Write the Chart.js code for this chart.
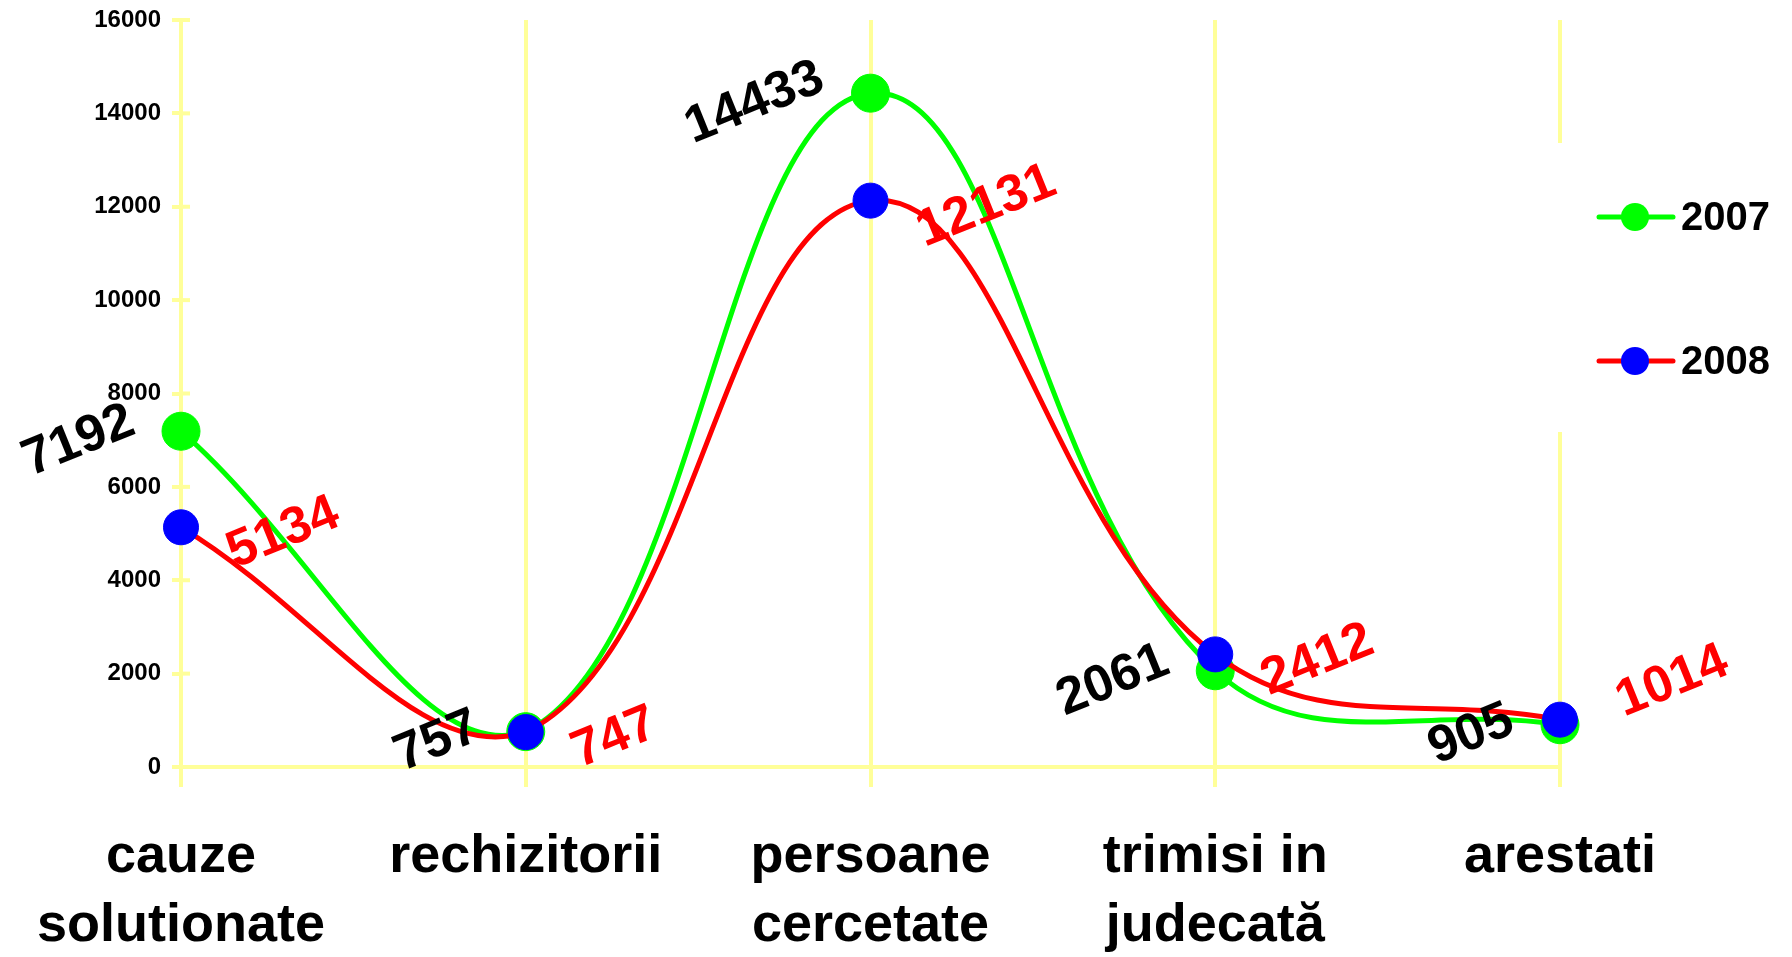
<!DOCTYPE html>
<html>
<head>
<meta charset="utf-8">
<script src="https://cdn.jsdelivr.net/npm/chart.js@4.4.0/dist/chart.umd.min.js"></script>
<style>
html,body{margin:0;padding:0;background:#ffffff;}
#wrap{position:relative;width:1792px;height:957px;}
</style>
</head>
<body>
<div id="wrap"><canvas id="c" width="1792" height="957"></canvas></div>
<script>
// ---- data ----
const categories = [['cauze', 'solutionate'], 'rechizitorii', ['persoane', 'cercetate'], ['trimisi in', 'judecată'], 'arestati'];
const seriesNames = ['2007', '2008'];
const values2007 = [7192, 757, 14433, 2061, 905];
const values2008 = [5134, 747, 12131, 2412, 1014];
const yTickMin = 0;
const yTickMax = 16000;
const yTickStep = 2000;

// ---- styles ----
const FONT = "'Liberation Sans', Arial, Helvetica, sans-serif";
const GRID = '#FFFF99';
const lineColors = ['#00FF00', '#FF0000'];
const markerColors = ['#00FF00', '#0000FF'];
const labelColors = ['#000000', '#FF0000'];

const labelPlugin = {
  id: 'valueLabels',
  afterDatasetsDraw(chart) {
    const ctx = chart.ctx;
    ctx.save();
    ctx.font = 'bold 52px ' + FONT;
    ctx.textAlign = 'center';
    ctx.textBaseline = 'middle';
    chart.data.datasets.forEach((ds, di) => {
      const meta = chart.getDatasetMeta(di);
      meta.data.forEach((pt, i) => {
        const txt = String(ds.data[i]);
        const w = ctx.measureText(txt).width;
        const dx = 48 + 0.47 * w;
        let cx, cy;
        if (di === 0) { cx = pt.x - dx; cy = pt.y + 10; }
        else {
          cx = pt.x + dx; cy = pt.y + 6;
          if (i === ds.data.length - 1) { cy -= 44; cx += 10; }
        }
        ctx.save();
        ctx.translate(cx, cy);
        ctx.rotate(-22 * Math.PI / 180);
        ctx.fillStyle = labelColors[di];
        ctx.fillText(txt, 0, 0);
        ctx.restore();
      });
    });
    ctx.restore();
  }
};

const axisExtras = {
  id: 'axisExtras',
  afterDraw(chart) {
    const ctx = chart.ctx;
    const ys = chart.scales.y;
    const area = chart.chartArea;
    ctx.save();
    // inner halves of the y-axis tick marks
    ctx.strokeStyle = GRID;
    ctx.lineWidth = 4;
    ys.ticks.forEach(t => {
      const y = ys.getPixelForValue(t.value);
      ctx.beginPath();
      ctx.moveTo(area.left, y);
      ctx.lineTo(area.left + 9, y);
      ctx.stroke();
    });
    // legend
    const bx = area.right - 12, by = area.top + 123;
    ctx.fillStyle = '#ffffff';
    ctx.fillRect(bx, by, chart.width - bx, 289);
    chart.data.datasets.forEach((ds, di) => {
      const y = area.top + 197 + di * 144;
      const x0 = area.right + 39;
      ctx.strokeStyle = ds.borderColor;
      ctx.lineWidth = 5;
      ctx.lineCap = 'round';
      ctx.beginPath();
      ctx.moveTo(x0, y);
      ctx.lineTo(x0 + 74, y);
      ctx.stroke();
      ctx.fillStyle = ds.pointBackgroundColor;
      ctx.beginPath();
      ctx.arc(x0 + 36, y, 14, 0, Math.PI * 2);
      ctx.fill();
      ctx.fillStyle = '#000';
      ctx.font = 'bold 40px ' + FONT;
      ctx.textAlign = 'left';
      ctx.textBaseline = 'middle';
      ctx.fillText(ds.label, x0 + 82, y + 2);
    });
    ctx.restore();
  }
};

new Chart(document.getElementById('c'), {
  type: 'line',
  data: {
    labels: categories,
    datasets: [
      {
        label: seriesNames[0], data: values2007, order: 1,
        borderColor: lineColors[0], borderWidth: 5,
        pointBackgroundColor: markerColors[0], pointBorderColor: markerColors[0],
        pointRadius: 19, pointBorderWidth: 1, tension: 0.4, fill: false
      },
      {
        label: seriesNames[1], data: values2008, order: 0,
        borderColor: lineColors[1], borderWidth: 5,
        pointBackgroundColor: markerColors[1], pointBorderColor: markerColors[1],
        pointRadius: 17.5, pointBorderWidth: 1, tension: 0.4, fill: false
      }
    ]
  },
  options: {
    responsive: false,
    animation: false,
    devicePixelRatio: 1,
    events: [],
    layout: { autoPadding: false, padding: { top: 20, right: 232, bottom: 0, left: 0 } },
    plugins: { legend: { display: false }, tooltip: { enabled: false } },
    scales: {
      x: {
        type: 'category',
        offset: false,
        grid: { color: GRID, lineWidth: 4, tickLength: 20, drawTicks: true },
        border: { color: GRID, width: 4 },
        ticks: {
          color: '#000', autoSkip: false, maxRotation: 0, minRotation: 0, padding: 36,
          font: { family: FONT, size: 54, weight: 'bold', lineHeight: 1.27 }
        },
        afterFit(s) { s.height = 190; }
      },
      y: {
        min: yTickMin, max: yTickMax,
        grid: { drawOnChartArea: false, color: GRID, lineWidth: 4, tickLength: 9 },
        border: { color: GRID, width: 4 },
        ticks: {
          stepSize: yTickStep, color: '#000', padding: 11,
          callback: (v) => String(v),
          font: { family: FONT, size: 24, weight: 'bold' }
        },
        afterFit(s) { s.width = 181; s.paddingTop = 10; s.paddingBottom = 10; }
      }
    }
  },
  plugins: [labelPlugin, axisExtras]
});
</script>
</body>
</html>
